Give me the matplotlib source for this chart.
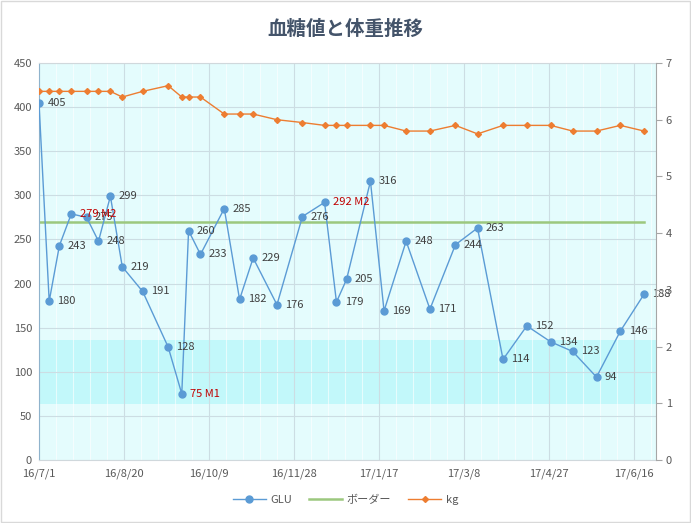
import matplotlib
matplotlib.use("Agg")
import matplotlib.pyplot as plt
import matplotlib.dates as mdates
import numpy as np
from datetime import date, timedelta

plt.rcParams['font.family'] = ['Noto Sans CJK JP', 'DejaVu Sans']

dates = ['2016-07-01', '2016-07-07', '2016-07-13', '2016-07-20', '2016-07-29',
         '2016-08-05', '2016-08-12', '2016-08-19', '2016-08-31', '2016-09-15',
         '2016-09-23', '2016-09-27', '2016-10-04', '2016-10-18', '2016-10-27',
         '2016-11-04', '2016-11-18', '2016-12-03', '2016-12-16', '2016-12-23',
         '2016-12-29', '2017-01-12', '2017-01-20', '2017-02-02', '2017-02-16',
         '2017-03-03', '2017-03-16', '2017-03-31', '2017-04-14', '2017-04-28',
         '2017-05-11', '2017-05-25', '2017-06-08', '2017-06-22']
glu = [405, 180, 243, 279, 275, 248, 299, 219, 191, 128,
       75, 260, 233, 285, 182, 229, 176, 276, 292, 179,
       205, 316, 169, 248, 171, 244, 263, 114, 152, 134,
       123, 94, 146, 188]
glu_note = {3: 'M2', 10: 'M1', 18: 'M2'}
border = [270] * len(dates)
kg = [6.5, 6.5, 6.5, 6.5, 6.5, 6.5, 6.5, 6.4, 6.5, 6.6,
      6.4, 6.4, 6.4, 6.1, 6.1, 6.1, 6.0, 5.95, 5.9, 5.9,
      5.9, 5.9, 5.9, 5.8, 5.8, 5.9, 5.75, 5.9, 5.9, 5.9,
      5.8, 5.8, 5.9, 5.8]
band = (64, 136)

x = [date.fromisoformat(d) for d in dates]
start = date(2016, 7, 1)
end = date(2017, 6, 29)

fig = plt.figure(figsize=(6.91, 5.23), dpi=100)
ax = fig.add_axes([39 / 691, 63 / 523, 617 / 691, 397 / 523])
ax.set_facecolor('#E4FCFD')
ax.axhspan(band[0], band[1], color='#C2F8FA', zorder=0, lw=0)

# light stripes every 10 days
for d in range(10, 365, 10):
    if d % 50:
        ax.axvline(start + timedelta(days=d), color='white', lw=0.8, alpha=0.6, zorder=0.5)

ax.plot(x, glu, color='#5B9BD5', lw=1, marker='o', ms=5, label='GLU', zorder=3)
ax.plot(x, border, color='#9CC87E', lw=1.8, label='ボーダー', zorder=2)

for i, (xi, v) in enumerate(zip(x, glu)):
    if i in glu_note:
        ax.annotate(f'{v} {glu_note[i]}', (xi, v), xytext=(6, 0), textcoords='offset points',
                    va='center', ha='left', fontsize=8, color='#C00000', zorder=6)
    else:
        ax.annotate(str(v), (xi, v), xytext=(6, 0), textcoords='offset points',
                    va='center', ha='left', fontsize=8, color='#404040', zorder=5)

ax.set_xlim(start, end)
ax.set_ylim(0, 450)
ax.set_yticks(np.arange(0, 451, 50))
ax.set_xticks([start + timedelta(days=50 * k) for k in range(8)])
ax.xaxis.set_major_formatter(mdates.DateFormatter('%y/%-m/%-d'))
ax.grid(True, color='#CCDDE3', lw=0.8, zorder=1)
ax.set_axisbelow(True)
ax.tick_params(axis='both', length=0, labelsize=8, labelcolor='#595959', pad=5)
ax.tick_params(axis='x', pad=6)
for s in ['top', 'bottom']:
    ax.spines[s].set_color('#D0D8DC')
ax.spines['left'].set_color('#8FB3CC')
ax.spines['right'].set_visible(False)

ax2 = ax.twinx()
ax2.plot(x, kg, color='#ED7D31', lw=1, marker='D', ms=3, label='kg', zorder=3)
ax2.set_ylim(0, 7)
ax2.set_yticks(range(0, 8))
ax2.tick_params(axis='y', length=4, direction='out', color='#A6A6A6',
                labelsize=8, labelcolor='#595959', pad=3)
ax2.spines['right'].set_color('#A6A6A6')
for s in ['top', 'bottom', 'left']:
    ax2.spines[s].set_visible(False)

fig.text(0.5, 1 - 29 / 523, '血糖値と体重推移', ha='center', va='center',
         fontsize=14, fontweight='bold', color='#44546A')

h1, l1 = ax.get_legend_handles_labels()
h2, l2 = ax2.get_legend_handles_labels()
fig.legend(h1 + h2, l1 + l2, loc='center', bbox_to_anchor=(0.5, 1 - 500 / 523),
           ncol=3, frameon=False, fontsize=8, labelcolor='#595959',
           handlelength=3, columnspacing=1.5, handletextpad=0.4)

fig.patches.append(plt.Rectangle((0.001, 0.001), 0.998, 0.998, transform=fig.transFigure,
                                 fill=False, edgecolor='#D9D9D9', lw=1))

fig.savefig('out.png', dpi=100)
